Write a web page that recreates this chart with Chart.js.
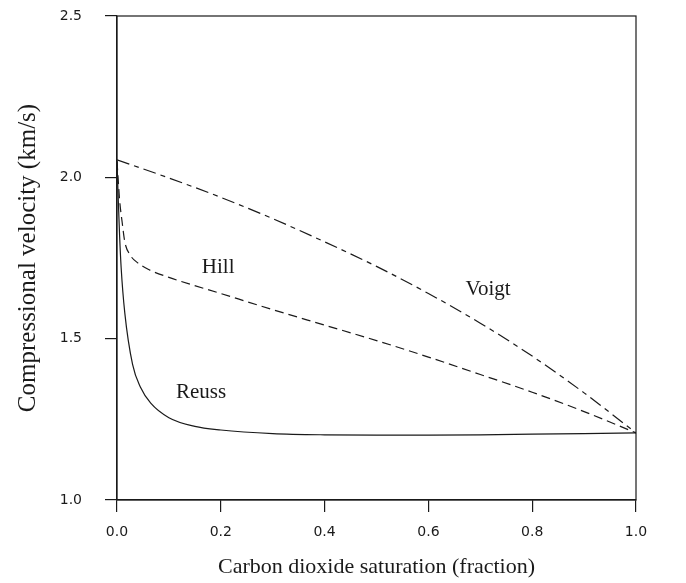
<!DOCTYPE html>
<html>
<head>
<meta charset="utf-8">
<script src="https://cdn.jsdelivr.net/npm/chart.js@4.4.1/dist/chart.umd.min.js"></script>
<style>
  html, body { margin: 0; padding: 0; background: #fff; }
  #wrap { width: 686px; height: 583px; }
</style>
</head>
<body>
<div id="wrap"><canvas id="c" width="686" height="583"></canvas></div>
<script>
// CO2 saturation vs compressional velocity
const voigtX = [0, 0.1, 0.2, 0.3, 0.4, 0.5, 0.6, 0.7, 0.8, 0.9, 1.0];
const voigtY = [2.054, 1.998, 1.938, 1.872, 1.800, 1.724, 1.640, 1.548, 1.446, 1.332, 1.208];

const hillX = [0, 0.002, 0.005, 0.01, 0.015, 0.025, 0.04, 0.06, 0.1, 0.2, 0.3, 0.4, 0.5, 0.6, 0.7, 0.8, 0.9, 1.0];
const hillY = [2.05, 2.0, 1.93, 1.86, 1.80, 1.76, 1.735, 1.715, 1.69, 1.64, 1.59, 1.542, 1.494, 1.443, 1.389, 1.334, 1.274, 1.208];

const reussX = [0, 0.002, 0.005, 0.008, 0.015, 0.03, 0.045, 0.065, 0.1, 0.15, 0.2, 0.3, 0.4, 0.5, 0.6, 0.7, 0.8, 0.9, 1.0];
const reussY = [2.05, 1.95, 1.82, 1.72, 1.58, 1.42, 1.35, 1.30, 1.255, 1.228, 1.217, 1.206, 1.202, 1.201, 1.201, 1.202, 1.204, 1.206, 1.208];

const xTicks = [0, 0.2, 0.4, 0.6, 0.8, 1.0];
const yTicks = [1.0, 1.5, 2.0, 2.5];

// curve labels, in data units
const labelText = ['Hill', 'Reuss', 'Voigt'];
const labelX = [0.195, 0.162, 0.715];
const labelY = [1.722, 1.332, 1.651];

const ink = '#1a1a1a';
const pts = (xs, ys) => xs.map((x, i) => ({ x, y: ys[i] }));

const frame = {
  id: 'frame',
  afterDatasetsDraw(chart) {
    const { ctx, chartArea: a, scales } = chart;
    ctx.save();
    ctx.strokeStyle = ink; ctx.lineWidth = 1.2;
    ctx.strokeRect(a.left, a.top, a.right - a.left, a.bottom - a.top);
    ctx.fillStyle = ink;
    ctx.font = '21px "Liberation Serif", serif';
    ctx.textAlign = 'center'; ctx.textBaseline = 'middle';
    labelText.forEach((t, i) => ctx.fillText(t, scales.x.getPixelForValue(labelX[i]), scales.y.getPixelForValue(labelY[i])));
    ctx.restore();
  }
};

const lineDs = (label, data, dash) => ({
  label, data, borderColor: ink, borderWidth: 1.2, borderDash: dash,
  pointRadius: 0, cubicInterpolationMode: 'monotone', fill: false
});

new Chart(document.getElementById('c'), {
  type: 'line',
  data: { datasets: [
    lineDs('Voigt', pts(voigtX, voigtY), [13, 5, 5, 5]),
    lineDs('Hill', pts(hillX, hillY), [9, 5]),
    lineDs('Reuss', pts(reussX, reussY), [])
  ] },
  options: {
    responsive: false, animation: false,
    layout: { padding: { top: 16, right: 50, left: 0, bottom: 0 } },
    plugins: { legend: { display: false }, tooltip: { enabled: false } },
    scales: {
      x: {
        type: 'linear', min: 0, max: 1,
        afterBuildTicks: s => { s.ticks = xTicks.map(v => ({ value: v })); },
        afterFit: s => { s.height = 83; },
        grid: { drawOnChartArea: false, drawTicks: true, tickLength: 12, color: ink, lineWidth: 1.2 },
        border: { color: ink, width: 1.2 },
        ticks: { color: ink, padding: 12, maxRotation: 0, font: { family: '"DejaVu Sans", sans-serif', size: 14 }, callback: v => v.toFixed(1) },
        title: { display: true, text: 'Carbon dioxide saturation (fraction)', color: ink, font: { family: '"Liberation Serif", serif', size: 22 }, padding: { top: 0, bottom: 3 } }
      },
      y: {
        type: 'linear', min: 1.0, max: 2.5,
        afterBuildTicks: s => { s.ticks = yTicks.map(v => ({ value: v })); },
        afterFit: s => { s.width = 117; s.paddingTop = 0; s.paddingBottom = 0; },
        grid: { drawOnChartArea: false, drawTicks: true, tickLength: 12, color: ink, lineWidth: 1.2 },
        border: { color: ink, width: 1.2 },
        ticks: { color: ink, padding: 23, font: { family: '"DejaVu Sans", sans-serif', size: 14 }, callback: v => v.toFixed(1) },
        title: { display: true, text: 'Compressional velocity (km/s)', color: ink, font: { family: '"Liberation Serif", serif', size: 25 }, padding: { top: 13, bottom: 0 } }
      }
    }
  },
  plugins: [frame]
});
</script>
</body>
</html>
